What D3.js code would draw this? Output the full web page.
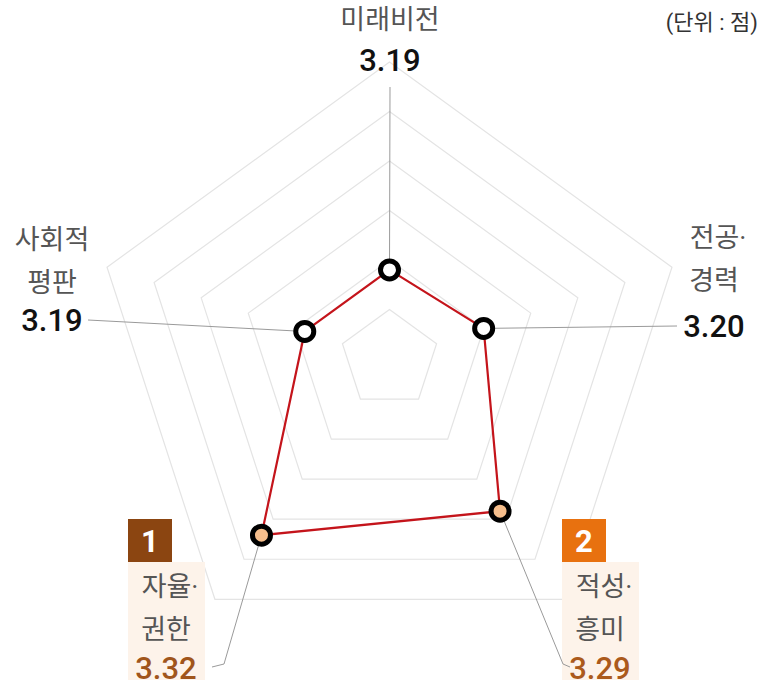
<!DOCTYPE html>
<html>
<head>
<meta charset="utf-8">
<script src="https://cdn.jsdelivr.net/npm/d3@7"></script>
<style>
  html, body { margin: 0; padding: 0; background: #fff; }
  svg { display: block; font-family: Roboto, "Noto Sans CJK KR", sans-serif; }
</style>
</head>
<body>
<div id="chart"></div>
<script>
const categories = ['미래비전', '전공·경력', '적성·흥미', '자율·권한', '사회적 평판'];
const labelLines = [['미래비전'], ['전공·', '경력'], ['적성·', '흥미'], ['자율·', '권한'], ['사회적', '평판']];
const values = [3.19, 3.20, 3.29, 3.32, 3.19];
const ringTicks = [3.15, 3.20, 3.25, 3.30, 3.35, 3.40];
const ranks = [null, null, 2, 1, null];
const unitLabel = '(단위 : 점)';

const width = 763, height = 687;
const cx = 389.5, cy = 359;

// label layout per axis (text centre x, first line y, value y, leader end)
const layout = [
  { x: 390, y0: 20, vy: 60, lx: 390, ly: 87, hx: null },
  { x: 714, y0: 238, vy: 326, lx: 677, ly: 326, hx: null },
  { x: 600, y0: 587, vy: 668, lx: 563, ly: 664, hx: 570 },
  { x: 166, y0: 587, vy: 668, lx: 224, ly: 664, hx: 212 },
  { x: 52, y0: 240, vy: 320, lx: 88, ly: 320, hx: null }
];
const rankColor = { 1: '#8b4511', 2: '#e8710f' };
const valueColor = { 1: '#a0551b', 2: '#ab5a1c' };

const r = d3.scaleLinear().domain([3.10, 3.40]).range([0, 297]);
const angle = d3.scalePoint().domain(d3.range(categories.length)).range([0, 2 * Math.PI * (categories.length - 1) / categories.length]);
const pt = (i, v) => {
  const a = angle(i) - Math.PI / 2;
  return [cx + r(v) * Math.cos(a), cy + r(v) * Math.sin(a)];
};

const svg = d3.select('#chart').append('svg')
  .attr('width', width).attr('height', height);

// grid rings
svg.append('g').selectAll('path')
  .data(ringTicks)
  .join('path')
  .attr('d', t => d3.line()(categories.map((c, i) => pt(i, t))) + 'Z')
  .attr('fill', 'none')
  .attr('stroke', '#e4e4e4')
  .attr('stroke-width', 1.2);

// label backgrounds + rank badges
const lab = svg.append('g');
categories.forEach((c, i) => {
  if (!ranks[i]) return;
  const bx = i === 3 ? 128 : 562;
  lab.append('rect')
    .attr('x', bx).attr('y', 562)
    .attr('width', 77).attr('height', 118)
    .attr('fill', '#fdf3ea');
  lab.append('rect')
    .attr('x', bx).attr('y', 519)
    .attr('width', 44).attr('height', 43)
    .attr('fill', rankColor[ranks[i]]);
  lab.append('text')
    .attr('x', bx + 22).attr('y', 541)
    .attr('text-anchor', 'middle').attr('dominant-baseline', 'central')
    .attr('fill', '#fff').attr('font-size', 31).attr('font-weight', 700)
    .text(ranks[i]);
});

// leader lines
svg.append('g').selectAll('polyline')
  .data(values)
  .join('polyline')
  .attr('points', (v, i) => {
    const p = pt(i, v), L = layout[i];
    const pts = [p, [L.lx, L.ly]];
    if (L.hx !== null) pts.push([L.hx, L.ly + 3]);
    return pts.map(d => d.join(',')).join(' ');
  })
  .attr('fill', 'none')
  .attr('stroke', '#9a9a9a')
  .attr('stroke-width', 1);

// data polygon
svg.append('path')
  .attr('d', d3.line()(values.map((v, i) => pt(i, v))) + 'Z')
  .attr('fill', 'none')
  .attr('stroke', '#c4141b')
  .attr('stroke-width', 2.2);

svg.append('g').selectAll('circle')
  .data(values)
  .join('circle')
  .attr('cx', (v, i) => pt(i, v)[0])
  .attr('cy', (v, i) => pt(i, v)[1])
  .attr('r', 9)
  .attr('fill', (v, i) => ranks[i] ? '#f6be8c' : '#fff')
  .attr('stroke', '#000')
  .attr('stroke-width', 5);

// category labels and values
categories.forEach((c, i) => {
  const L = layout[i];
  labelLines[i].forEach((line, j) => {
    lab.append('text')
      .attr('x', L.x + (line.endsWith('·') ? 4 : 0)).attr('y', L.y0 + j * 43)
      .attr('text-anchor', 'middle').attr('dominant-baseline', 'central')
      .attr('fill', '#555').attr('font-size', 27)
      .text(line);
  });
  lab.append('text')
    .attr('x', L.x).attr('y', L.vy)
    .attr('text-anchor', 'middle').attr('dominant-baseline', 'central')
    .attr('fill', ranks[i] ? valueColor[ranks[i]] : '#111')
    .attr('font-size', 31).attr('font-weight', 500)
    .text(values[i].toFixed(2));
});

svg.append('text')
  .attr('x', 758).attr('y', 22)
  .attr('text-anchor', 'end').attr('dominant-baseline', 'central')
  .attr('fill', '#333').attr('font-size', 22)
  .text(unitLabel);
</script>
</body>
</html>
